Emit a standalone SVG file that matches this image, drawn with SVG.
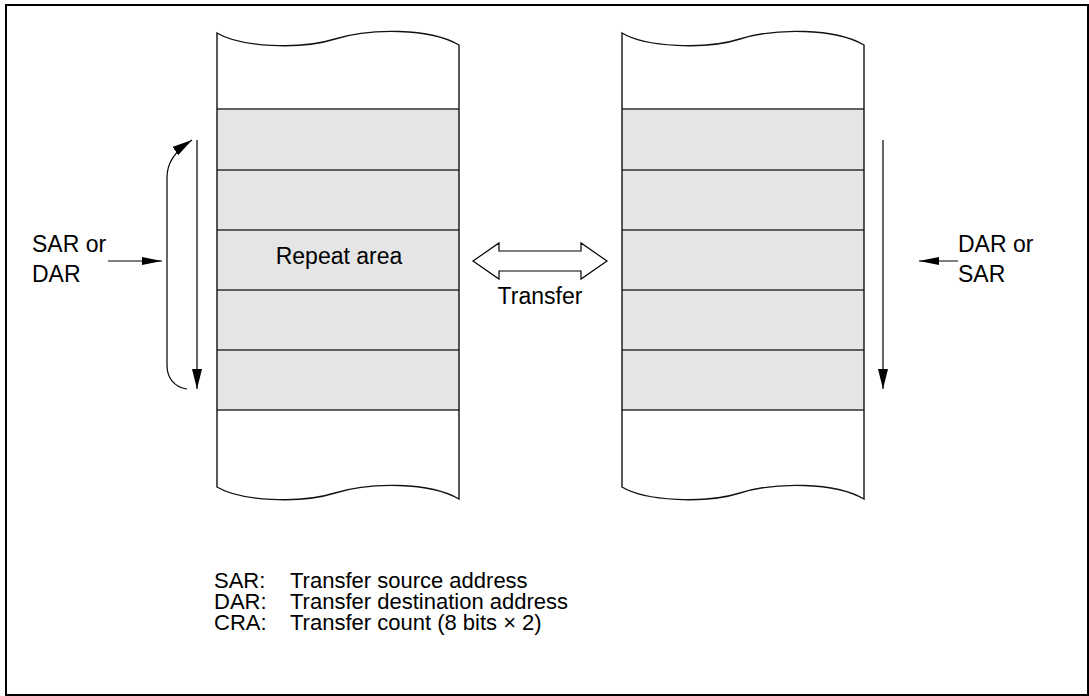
<svg xmlns="http://www.w3.org/2000/svg" width="1089" height="696" viewBox="0 0 1089 696">
<style>
text{font-family:"Liberation Sans",Arial,sans-serif;font-size:23px;fill:#000}
.lg{font-size:22px}
.col{fill:none;stroke:#111;stroke-width:1.4}
.sh{fill:#e5e5e5;stroke:none}
.row{stroke:#333;stroke-width:1.4}
.ar{fill:none;stroke:#000;stroke-width:1.2}
</style>
<defs>
<marker id="ah" viewBox="0 0 20 10" refX="20" refY="5" markerWidth="20" markerHeight="10" markerUnits="userSpaceOnUse" orient="auto"><path d="M0,0 L20,5 L0,10 Z" fill="#000"/></marker>
<marker id="ahs" viewBox="0 0 20 8" refX="20" refY="4" markerWidth="20" markerHeight="8" markerUnits="userSpaceOnUse" orient="auto"><path d="M0,0 L20,4 L0,8 Z" fill="#000"/></marker>
<g id="memcol">
<rect class="sh" x="217" y="109" width="242" height="301"/>
<path class="row" d="M217,109H459M217,170H459M217,230H459M217,290H459M217,350H459M217,410H459"/>
<path class="col" d="M217,33 C240,47 300,50 335,39 C370,28 430,28 459,45 L459,499 C430,482 370,482 335,493 C300,504 240,501 217,487 Z"/>
</g>
</defs>
<rect id="frame" x="6" y="5" width="1082" height="690" fill="none" stroke="#000" stroke-width="2"/>
<g id="left-memory"><use href="#memcol"/><text x="339" y="264" text-anchor="middle">Repeat area</text></g>
<g id="right-memory"><use href="#memcol" transform="translate(405,0)"/></g>
<g id="transfer">
<polygon points="473,261 499,243 499,251 581,251 581,243 607,261 581,279 581,271 499,271 499,279" fill="#fff" stroke="#000" stroke-width="1.2"/>
<text x="540" y="304" text-anchor="middle">Transfer</text>
</g>
<g id="left-label"><text x="32" y="252">SAR or</text><text x="32" y="282">DAR</text></g>
<g id="right-label"><text x="958" y="252">DAR or</text><text x="958" y="282">SAR</text></g>
<g id="connectors">
<line class="ar" x1="108" y1="261" x2="162" y2="261" marker-end="url(#ahs)"/>
<line class="ar" x1="958" y1="261" x2="919" y2="261" marker-end="url(#ahs)"/>
<line class="ar" x1="197" y1="140" x2="197" y2="389" marker-end="url(#ah)"/>
<line class="ar" x1="883" y1="140" x2="883" y2="389" marker-end="url(#ah)"/>
<path class="ar" d="M187,389 C174,387 167,378 167,365 L167,178 C167,163 174,152 192,140" marker-end="url(#ah)"/>
</g>
<g id="legend">
<text class="lg"><tspan x="214" y="588">SAR:</tspan><tspan x="290" y="588">Transfer source address</tspan><tspan x="214" y="609">DAR:</tspan><tspan x="290" y="609">Transfer destination address</tspan><tspan x="214" y="630">CRA:</tspan><tspan x="290" y="630">Transfer count (8 bits × 2)</tspan></text>
</g>
</svg>
